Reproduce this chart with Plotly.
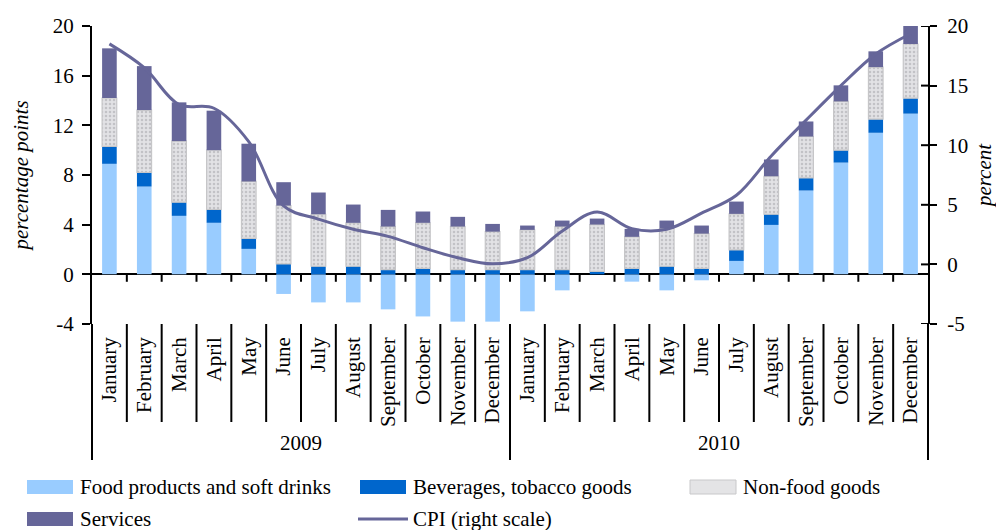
import plotly.graph_objects as go

# ---------------- data ----------------
months = ["January", "February", "March", "April", "May", "June", "July",
          "August", "September", "October", "November", "December"]
years = ["2009", "2010"]

food = [8.9, 7.07, 4.71, 4.15, 2.05, -1.58, -2.26, -2.26, -2.82, -3.39, -3.81, -3.81,
        -2.98, -1.29, 0.0, -0.59, -1.29, -0.48, 1.08, 3.98, 6.75, 9.0, 11.4, 12.94]
beverages = [1.4, 1.13, 1.1, 1.07, 0.85, 0.84, 0.65, 0.65, 0.38, 0.48, 0.38, 0.38,
             0.38, 0.38, 0.24, 0.48, 0.65, 0.48, 0.89, 0.86, 1.02, 1.0, 1.1, 1.25]
nonfood = [3.9, 5.03, 4.92, 4.78, 4.58, 4.7, 4.19, 3.5, 3.47, 3.67, 3.47, 3.06,
           3.2, 3.47, 3.77, 2.54, 3.04, 2.8, 2.9, 3.06, 3.33, 3.93, 4.19, 4.36]
services = [4.0, 3.54, 3.12, 3.18, 3.04, 1.88, 1.75, 1.47, 1.34, 0.91, 0.78, 0.62,
            0.35, 0.48, 0.48, 0.64, 0.64, 0.65, 0.99, 1.35, 1.21, 1.29, 1.27, 1.45]
cpi = [18.5, 16.5, 13.4, 13.1, 10.3, 4.9, 3.8, 2.95, 2.35, 1.4, 0.56, 0.05,
       0.56, 2.8, 4.4, 3.0, 2.95, 4.3, 5.8, 9.1, 12.1, 15.0, 17.65, 19.35]

left_ticks = [-4, 0, 4, 8, 12, 16, 20]
right_ticks = [-5, 0, 5, 10, 15, 20]

# ---------------- styling ----------------
FONT = "Liberation Serif, Times New Roman, serif"
FS = 21
C_FOOD = "#99ccff"
C_BEV = "#0066cc"
C_NONFOOD = "#d9d9dc"
C_SERV = "#666699"
C_CPI = "#666699"

n = len(food)
xs = list(range(n))
labels = months * len(years)

W, H = 996, 530
ML, MR, MT, MB = 92, 68, 26, 206
PW, PH = W - ML - MR, H - MT - MB


def px_x(p):
    return (p - ML) / PW


def px_y(p):
    return (H - MB - p) / PH


fig = go.Figure()
fig.add_trace(go.Bar(x=xs, y=food, name="Food products and soft drinks",
                     marker=dict(color=C_FOOD, line=dict(width=0))))
fig.add_trace(go.Bar(x=xs, y=beverages, name="Beverages, tobacco goods",
                     marker=dict(color=C_BEV, line=dict(width=0))))
fig.add_trace(go.Bar(x=xs, y=nonfood, name="Non-food goods",
                     marker=dict(color=C_NONFOOD,
                                 line=dict(width=1.2, color="#c6c6c8"),
                                 pattern=dict(shape=".", fgcolor="#c2c2c6",
                                              bgcolor="#e2e2e5", size=4,
                                              solidity=0.3, fillmode="replace"))))
fig.add_trace(go.Bar(x=xs, y=services, name="Services",
                     marker=dict(color=C_SERV, line=dict(width=0))))
fig.add_trace(go.Scatter(x=xs, y=cpi, name="CPI (right scale)", yaxis="y2",
                         mode="lines",
                         line=dict(color=C_CPI, width=3, shape="spline",
                                   smoothing=1.0)))

shapes = []
# small ticks on the zero line at category boundaries
for k in range(n - 1):
    shapes.append(dict(type="line", xref="x", yref="y", x0=k + 0.5, x1=k + 0.5,
                       y0=0, y1=-0.6, line=dict(color="black", width=2)))
# inner half of the right-axis ticks (they cross the axis line)
for t in right_ticks:
    shapes.append(dict(type="line", xref="paper", yref="y2", x0=1 - 7 / PW, x1=1,
                       y0=t, y1=t, line=dict(color="black", width=2)))
# category separators below the plot
for k in range(n + 1):
    b = k - 0.5
    xp = (b + 0.5) / n
    is_year = (k % 12 == 0)
    shapes.append(dict(type="line", xref="paper", yref="paper", x0=xp, x1=xp,
                       y0=0, y1=px_y(460 if is_year else 422),
                       line=dict(color="black", width=2)))

annotations = []
for i, yr in enumerate(years):
    annotations.append(dict(text=yr, xref="paper", yref="paper",
                            x=(i * 12 + 6) / n, y=px_y(443), showarrow=False,
                            xanchor="center", yanchor="middle",
                            font=dict(family=FONT, size=FS, color="black")))

# custom legend
legend_items = [
    ("rect", C_FOOD, None, "Food products and soft drinks", 27, 487),
    ("rect", C_BEV, None, "Beverages, tobacco goods", 360, 487),
    ("rect", "#e4e4e6", "#c8c8ca", "Non-food goods", 690, 487),
    ("rect", C_SERV, None, "Services", 27, 519),
    ("line", C_CPI, None, "CPI (right scale)", 358, 519),
]
for kind, col, border, text, x0, yc in legend_items:
    if kind == "rect":
        shapes.append(dict(type="rect", xref="paper", yref="paper",
                           x0=px_x(x0), x1=px_x(x0 + 46),
                           y0=px_y(yc - 7), y1=px_y(yc + 7),
                           fillcolor=col,
                           line=dict(width=1 if border else 0,
                                     color=border if border else col)))
        tx = x0 + 51
    else:
        shapes.append(dict(type="line", xref="paper", yref="paper",
                           x0=px_x(x0), x1=px_x(x0 + 50),
                           y0=px_y(yc), y1=px_y(yc),
                           line=dict(color=col, width=3)))
        tx = x0 + 53
    annotations.append(dict(text=text, xref="paper", yref="paper",
                            x=px_x(tx), y=px_y(yc), showarrow=False,
                            xanchor="left", yanchor="middle",
                            font=dict(family=FONT, size=FS, color="black")))

fig.update_layout(
    width=W, height=H,
    margin=dict(l=ML, r=MR, t=MT, b=MB, autoexpand=False),
    paper_bgcolor="white", plot_bgcolor="white",
    barmode="relative", bargap=0.58,
    showlegend=False,
    font=dict(family=FONT, size=FS, color="black"),
    xaxis=dict(range=[-0.5, n - 0.5], tickmode="array", tickvals=xs,
               ticktext=labels, tickangle=-90, ticks="", showline=False,
               showgrid=False, zeroline=False, ticklabelstandoff=8,
               tickfont=dict(family=FONT, size=FS, color="black"),
               automargin=False),
    yaxis=dict(range=[-4, 20], tickmode="array", tickvals=left_ticks,
               ticktext=[str(t) for t in left_ticks],
               ticks="outside", ticklen=8, tickwidth=2, tickcolor="black",
               showline=True, linewidth=2, linecolor="black",
               showgrid=False, zeroline=True, zerolinewidth=2,
               zerolinecolor="black", ticklabelstandoff=4,
               tickfont=dict(family=FONT, size=FS, color="black"),
               title=dict(text="percentage points", standoff=18,
                          font=dict(family=FONT, size=FS, color="black",
                                    style="italic")),
               automargin=False),
    yaxis2=dict(range=[-5, 20], overlaying="y", side="right", anchor="x",
                tickmode="array", tickvals=right_ticks,
                ticktext=[str(t) for t in right_ticks],
                ticks="outside", ticklen=7, tickwidth=2, tickcolor="black",
                showline=True, linewidth=2, linecolor="black",
                showgrid=False, zeroline=False, ticklabelstandoff=6,
                tickfont=dict(family=FONT, size=FS, color="black"),
                title=dict(text="percent", standoff=14,
                           font=dict(family=FONT, size=FS, color="black",
                                     style="italic")),
                automargin=False),
    shapes=shapes,
    annotations=annotations,
)

fig.write_html("out.html")
